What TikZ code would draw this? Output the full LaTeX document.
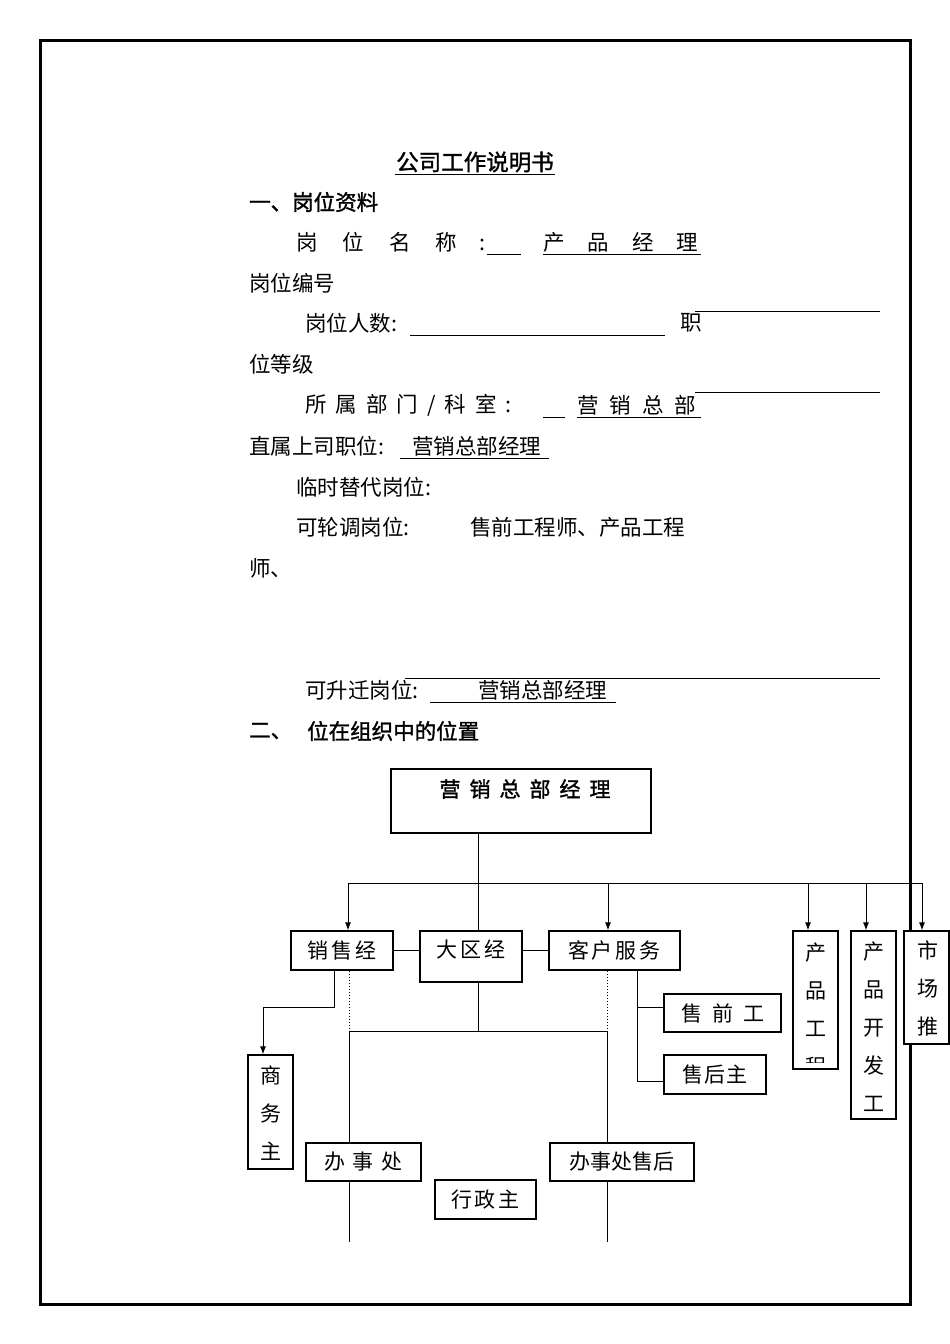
\documentclass[tikz,border=0pt]{standalone}
\usepackage{fontspec}
\usetikzlibrary{arrows.meta}
\setmainfont{Noto Sans CJK SC}
\newfontfamily\cjkb[FakeBold=1.5]{Noto Sans CJK SC}
\begin{document}
\begin{tikzpicture}[x=1pt,y=-1pt,
  txt/.style={anchor=west,inner sep=0pt,font=\fontsize{21.5}{21.5}\selectfont},
  btxt/.style={anchor=west,inner sep=0pt,font=\cjkb\fontsize{21.5}{21.5}\selectfont},
  box/.style={draw,line width=1.2pt,inner sep=0pt},
  lbl/.style={inner sep=0pt,font=\fontsize{21}{21}\selectfont},
  ln/.style={line width=1pt},
  arr/.style={line width=1pt,-{Latex[length=8pt,width=6pt]}}]
\useasboundingbox (0,0) rectangle (950,1344);
\draw[line width=3pt] (40,40) rectangle (910,1304);
% text
\node[btxt,anchor=center,font=\cjkb\fontsize{22.5}{22.5}\selectfont] (t0) at (475,162) {公司工作说明书};
\draw[ln] (395,174) -- (555,174);
\node[btxt] (t1) at (249,202) {一、岗位资料};
\node[txt] (t2) at (296,242) {岗\hspace{25pt}位\hspace{25pt}名\hspace{25pt}称\hspace{22pt}:};
\draw[ln] (487,254) -- (521,254);
\node[txt] (t2b) at (543,242) {产\hspace{23pt}品\hspace{23pt}经\hspace{23pt}理};
\draw[ln] (543,254) -- (701,254);
\node[txt] (t3) at (249,283) {岗位编号};
\draw[ln] (695,311) -- (880,311);
\node[txt] (t4) at (305,323) {岗位人数:};
\draw[ln] (410,335) -- (665,335);
\node[txt] (t4b) at (680,323) {职};
\node[txt] (t5) at (249,364) {位等级};
\draw[ln] (695,392) -- (880,392);
\node[txt] (t6) at (305,405) {所\hspace{9pt}属\hspace{9pt}部\hspace{9pt}门\hspace{9pt}/\hspace{9pt}科\hspace{9pt}室\hspace{9pt}:};
\draw[ln] (543,417) -- (565,417);
\node[txt] (t6b) at (577,405) {营\hspace{11pt}销\hspace{11pt}总\hspace{11pt}部};
\draw[ln] (577,417) -- (701,417);
\node[txt] (t7) at (249,446) {直属上司职位:};
\node[txt] (t7b) at (412,446) {营销总部经理};
\draw[ln] (400,458) -- (549,458);
\node[txt] (t8) at (296,487) {临时替代岗位:};
\node[txt] (t9) at (296,527) {可轮调岗位:};
\node[txt] (t9b) at (470,527) {售前工程师、产品工程};
\node[txt] (t10) at (249,568) {师、};
\draw[ln] (405,678) -- (880,678);
\node[txt] (t11) at (305,690) {可升迁岗位:};
\node[txt] (t11b) at (478,690) {营销总部经理};
\draw[ln] (430,702) -- (616,702);
\node[btxt] (t12) at (249,731) {二、};
\node[btxt] (t12b) at (307,731) {位在组织中的位置};
% org chart
\node[box,minimum width=260pt,minimum height=64pt] (gm) at (521,801) {};
\node[inner sep=0pt,font=\cjkb\fontsize{21}{21}\selectfont] (gmt) at (525,789) {营\hspace{9pt}销\hspace{9pt}总\hspace{9pt}部\hspace{9pt}经\hspace{9pt}理};
\node[box,minimum width=102pt,minimum height=39pt,lbl] (xs) at (342,950.5) {销\hspace{3pt}售\hspace{3pt}经};
\node[box,minimum width=102pt,minimum height=51pt] (dq) at (471,956.5) {};
\node[lbl] (dqt) at (471,949) {大\hspace{3pt}区\hspace{3pt}经};
\node[box,minimum width=131pt,minimum height=39pt,lbl] (kf) at (614.5,950.5) {客\hspace{3pt}户\hspace{3pt}服\hspace{3pt}务};
\node[box,minimum width=45pt,minimum height=138pt] (cpg) at (815.5,1000) {};
\begin{scope}
\clip (793,931) rectangle (838,1062);
\node[lbl,align=center,font=\fontsize{21}{38}\selectfont] (cpgt) at (815.5,1009) {产\\品\\工\\程};
\end{scope}
\node[box,minimum width=45pt,minimum height=188pt] (cpk) at (873.5,1025) {};
\node[lbl,align=center,font=\fontsize{21}{38}\selectfont] (cpkt) at (873.5,1027) {产\\品\\开\\发\\工};
\node[box,minimum width=45pt,minimum height=113pt,fill=white] (sc) at (926.5,987.5) {};
\node[lbl,align=center,font=\fontsize{21}{38}\selectfont] (sct) at (928,988) {市\\场\\推};
\node[box,minimum width=117pt,minimum height=38pt,lbl] (sq) at (722.5,1013) {售\hspace{10pt}前\hspace{10pt}工};
\node[box,minimum width=102pt,minimum height=39pt,lbl] (sh) at (715,1074.5) {售\hspace{1pt}后\hspace{1pt}主};
\node[box,minimum width=45pt,minimum height=114pt] (sw) at (270.5,1112) {};
\node[lbl,align=center,font=\fontsize{21}{38}\selectfont] (swt) at (271,1113) {商\\务\\主};
\node[box,minimum width=115pt,minimum height=38pt,lbl] (bs) at (363.5,1162) {办\hspace{8pt}事\hspace{8pt}处};
\node[box,minimum width=144pt,minimum height=38pt,lbl] (bsh) at (622,1162) {办事处售后};
\node[box,minimum width=101pt,minimum height=39pt,lbl] (xz) at (485.5,1199.5) {行\hspace{3pt}政\hspace{3pt}主};
% connectors
\draw[ln] (gm.south -| 478,0) -- (dq.north -| 478,0);
\draw[ln] (348,883) -- (922,883);
\draw[arr] (348,883) -- (xs.north -| 348,0);
\draw[arr] (608,883) -- (kf.north -| 608,0);
\draw[arr] (808,883) -- (cpg.north -| 808,0);
\draw[arr] (866,883) -- (cpk.north -| 866,0);
\draw[arr] (922,883) -- (sc.north -| 922,0);
\draw[ln] (xs.east) -- (dq.west |- xs.east);
\draw[ln] (dq.east |- kf.west) -- (kf.west);
\draw[ln] (dq.south -| 478,0) -- (478,1031);
\draw[ln] (349,1031) -- (607,1031);
\draw[ln,dotted] (xs.south -| 349,0) -- (349,1031);
\draw[ln,dotted] (kf.south -| 607,0) -- (607,1031);
\draw[ln] (349,1031) -- (bs.north -| 349,0);
\draw[ln] (607,1031) -- (bsh.north -| 607,0);
\draw[ln] (bs.south -| 349,0) -- (349,1242);
\draw[ln] (bsh.south -| 607,0) -- (607,1242);
\draw[ln] (kf.south -| 637,0) -- (637,1081) -- (sh.west |- 0,1081);
\draw[ln] (637,1007) -- (sq.west |- 0,1007);
\draw[ln] (xs.south -| 334,0) -- (334,1007) -- (263,1007);
\draw[arr] (263,1007) -- (sw.north -| 263,0);
\end{tikzpicture}
\end{document}
